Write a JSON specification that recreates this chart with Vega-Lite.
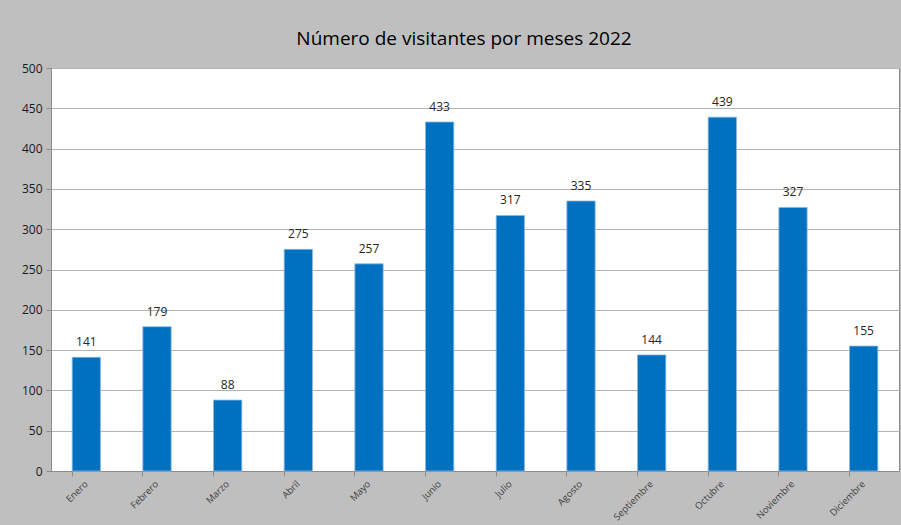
{
  "$schema": "https://vega.github.io/schema/vega-lite/v6.json",
  "width": 848,
  "height": 403,
  "autosize": "none",
  "padding": {"left": 51, "top": 68, "right": 2, "bottom": 54},
  "background": "#bfbfbf",
  "title": {
    "text": "Número de visitantes por meses 2022",
    "font": "Open Sans",
    "fontSize": 19,
    "fontWeight": "normal",
    "color": "#000000",
    "anchor": "middle",
    "dx": -11,
    "offset": 13
  },
  "data": {
    "values": [
      {"mes": "Enero", "visitantes": 141},
      {"mes": "Febrero", "visitantes": 179},
      {"mes": "Marzo", "visitantes": 88},
      {"mes": "Abril", "visitantes": 275},
      {"mes": "Mayo", "visitantes": 257},
      {"mes": "Junio", "visitantes": 433},
      {"mes": "Julio", "visitantes": 317},
      {"mes": "Agosto", "visitantes": 335},
      {"mes": "Septiembre", "visitantes": 144},
      {"mes": "Octubre", "visitantes": 439},
      {"mes": "Noviembre", "visitantes": 327},
      {"mes": "Diciembre", "visitantes": 155}
    ]
  },
  "encoding": {
    "x": {
      "field": "mes",
      "type": "nominal",
      "sort": null,
      "scale": {"paddingInner": 0.6, "paddingOuter": 0.3},
      "axis": {
        "title": null,
        "labelAngle": -45,
        "labelAlign": "right",
        "labelBaseline": "middle",
        "labelFont": "Open Sans",
        "labelFontSize": 9.5,
        "labelColor": "#404040",
        "labelPadding": 6,
        "bandPosition": 0,
        "tickSize": 5,
        "tickColor": "#8c8c8c",
        "domainColor": "#8c8c8c",
        "grid": false
      }
    },
    "y": {
      "field": "visitantes",
      "type": "quantitative",
      "scale": {"domain": [0, 500]},
      "axis": {
        "title": null,
        "values": [0, 50, 100, 150, 200, 250, 300, 350, 400, 450, 500],
        "labelFont": "Open Sans",
        "labelFontSize": 12,
        "labelColor": "#1a1a1a",
        "labelPadding": 4,
        "tickSize": 5,
        "tickColor": "#8c8c8c",
        "domainColor": "#8c8c8c",
        "gridColor": "#b4b4b4"
      }
    }
  },
  "layer": [
    {"mark": {"type": "bar", "color": "#0070c0", "stroke": "#8ab8e0", "strokeWidth": 0.8}},
    {
      "mark": {
        "type": "text",
        "dy": -15,
        "font": "Open Sans",
        "fontSize": 12,
        "color": "#262626"
      },
      "encoding": {"text": {"field": "visitantes", "type": "quantitative"}}
    }
  ],
  "config": {
    "view": {"fill": "white", "stroke": "#8c8c8c"}
  }
}
